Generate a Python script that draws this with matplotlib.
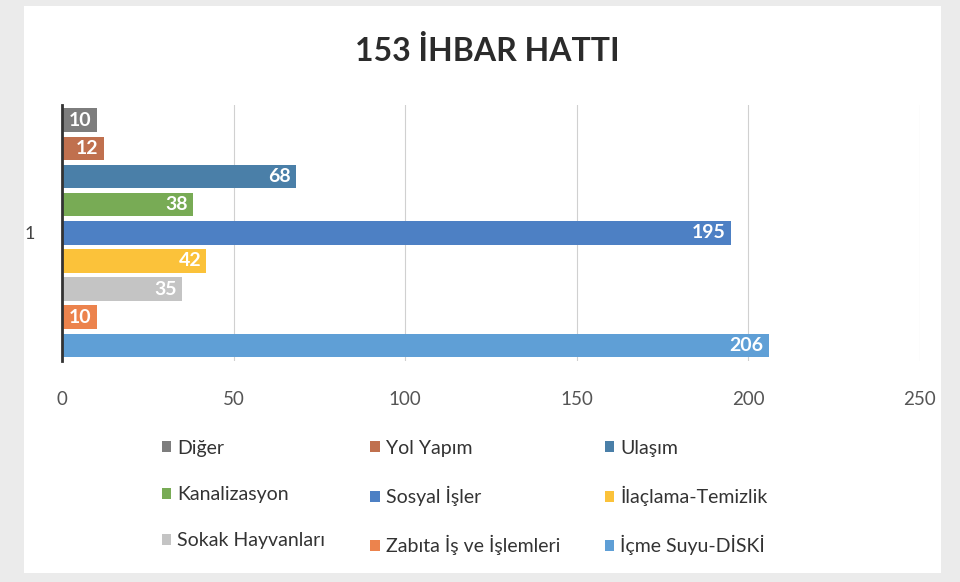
import matplotlib.pyplot as plt
from matplotlib.patches import Rectangle

plt.rcParams["font.family"] = ["Lato", "DejaVu Sans"]

# series, top to bottom as drawn
series = ["Diğer", "Yol Yapım", "Ulaşım", "Kanalizasyon", "Sosyal İşler",
          "İlaçlama-Temizlik", "Sokak Hayvanları", "Zabıta İş ve İşlemleri",
          "İçme Suyu-DİSKİ"]
values = [10, 12, 68, 38, 195, 42, 35, 10, 206]
colors = ["#7d7d7d", "#c0704e", "#4a7fa8", "#78ab55", "#4d80c4",
          "#fbc23a", "#c4c4c4", "#ec834d", "#5f9fd6"]
category = "1"
xticks = [0, 50, 100, 150, 200, 250]

fig = plt.figure(figsize=(9.6, 5.82), dpi=100)
fig.patch.set_facecolor("#ebebeb")
fig.add_artist(Rectangle((0.025, 0.015), 0.955, 0.975, transform=fig.transFigure,
                         facecolor="white", edgecolor="none", zorder=-1))

ax = fig.add_axes([0.065, 0.38, 0.893, 0.44])
ax.set_facecolor("white")
n = len(series)
bh = 0.84
bars = []
for i, (name, v, c) in enumerate(zip(series, values, colors)):
    y = n - 1 - i
    b = ax.barh(y, v, height=bh, color=c, label=name, zorder=2)
    bars.append(b)
    ax.text(v - 1.5, y, str(v), ha="right", va="center", color="white",
            fontsize=14, fontweight="bold", zorder=3)

ax.set_xlim(0, 250)
ax.set_ylim(-0.55, n - 0.45)
ax.set_xticks(xticks)
ax.set_xticklabels([str(t) for t in xticks], color="#555555", fontsize=13.5)
ax.tick_params(axis="x", length=0, pad=22)
ax.set_yticks([(n - 1) / 2])
ax.set_yticklabels([category], fontsize=13, color="#444444")
ax.tick_params(axis="y", length=0, pad=20)
ax.grid(axis="x", color="#d0d0d0", linewidth=0.8, zorder=0)
for s in ["top", "right", "bottom"]:
    ax.spines[s].set_visible(False)
ax.spines["left"].set_color("#333333")
ax.spines["left"].set_linewidth(2)

fig.text(0.508, 0.912, "153 İHBAR HATTI", ha="center", va="center",
         fontsize=23, fontweight="bold", color="#2b2b2b")

# legend filled row by row, matplotlib fills columns, so reorder
order = [0, 3, 6, 1, 4, 7, 2, 5, 8]
handles = [bars[i] for i in order]
labels = [series[i] for i in order]
leg = fig.legend(handles, labels, ncol=3, loc="center", bbox_to_anchor=(0.484, 0.145),
                 frameon=False, fontsize=14, handlelength=0.5, handleheight=0.5,
                 handletextpad=0.3, columnspacing=2.3, labelspacing=1.5,
                 labelcolor="#333333")

fig.savefig("out.png", dpi=100, facecolor=fig.get_facecolor())
